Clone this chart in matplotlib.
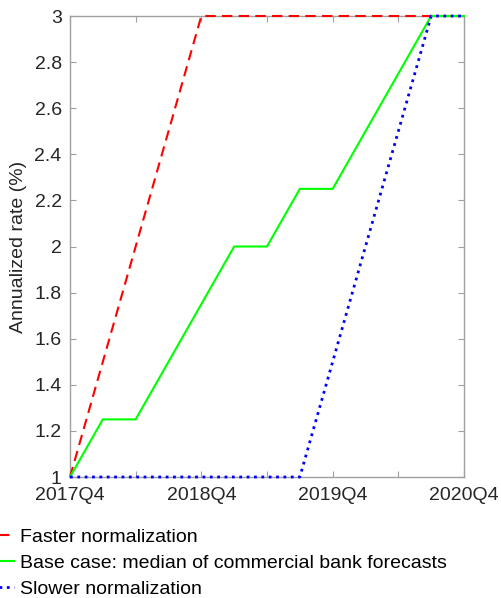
import numpy as np
import matplotlib.pyplot as plt

plt.rcParams['font.family'] = ['Liberation Sans', 'DejaVu Sans']

# quarters since 2017Q4
quarters = np.arange(13)
tick_pos = [0, 4, 8, 12]
tick_labels = ["2017Q4", "2018Q4", "2019Q4", "2020Q4"]

faster = [1.0, 1.5, 2.0, 2.5, 3.0, 3.0, 3.0, 3.0, 3.0, 3.0, 3.0, 3.0, 3.0]
base = [1.0, 1.25, 1.25, 1.5, 1.75, 2.0, 2.0, 2.25, 2.25, 2.5, 2.75, 3.0, 3.0]
slower = [1.0, 1.0, 1.0, 1.0, 1.0, 1.0, 1.0, 1.0, 1.5, 2.0, 2.5, 3.0, 3.0]

labels = ["Faster normalization",
          "Base case: median of commercial bank forecasts",
          "Slower normalization"]

fig = plt.figure(figsize=(5.02, 5.98), dpi=100)
ax = fig.add_axes([70/502, 1 - 477/598, (464-70)/502, (477-16)/598])

ax.plot(quarters, faster, '--', color='#ff0000', lw=1.5, label=labels[0], dashes=(5, 3), clip_on=False, zorder=3)
ax.plot(quarters, base, '-', color='#00ff00', lw=1.5, label=labels[1], clip_on=False, zorder=4)
ax.plot(quarters, slower, ':', color='#0000ff', lw=2, label=labels[2], clip_on=False, zorder=5)

ax.set_xlim(0, 12)
ax.set_ylim(1, 3)
ax.set_xticks(tick_pos)
ax.set_xticklabels(tick_labels)
ax.set_xticks([2, 6, 10], minor=True)
ax.set_yticks(np.arange(1, 3.01, 0.2))
ax.set_yticklabels(["1", "1.2", "1.4", "1.6", "1.8", "2", "2.2", "2.4", "2.6", "2.8", "3"])
ax.tick_params(which='both', direction='in', top=True, right=True, length=4,
               color='#a0a0a0', labelsize=14, labelcolor='#262626', width=0.8)
ax.tick_params(axis='x', pad=7)
ax.tick_params(axis='y', pad=6)
for s in ax.spines.values():
    s.set_color('#a0a0a0')
    s.set_linewidth(1.0)
ax.set_ylabel("Annualized rate (%)", fontsize=14, color='#262626')
ax.yaxis.set_label_coords(-0.11, 0.5)

fig.legend(loc='upper left', bbox_to_anchor=(-0.049, 1 - 528/598), frameon=False,
           fontsize=14, handlelength=2, handletextpad=0.3, borderpad=0,
           borderaxespad=0, labelspacing=0.43)

fig.savefig("out.png", dpi=100)
